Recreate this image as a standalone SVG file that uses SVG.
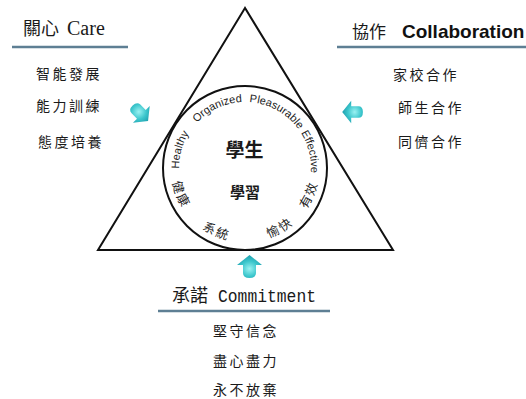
<svg xmlns="http://www.w3.org/2000/svg" xmlns:xlink="http://www.w3.org/1999/xlink" width="526" height="399" viewBox="0 0 526 399">
<style>
.cjk{font-family:"Noto Sans CJK TC","Noto Sans CJK SC",sans-serif;fill:#1a1a1a}
.item{font-size:14px;letter-spacing:2.5px}
.hline{stroke:#5e7f94;stroke-width:2.5;fill:none}
.en{font-family:"Liberation Sans",Arial,sans-serif;font-size:11px;fill:#222}
.arc{font-family:"Noto Sans CJK TC",sans-serif;font-size:12.5px;fill:#222;letter-spacing:2px}
.shape{fill:none;stroke:#111;stroke-width:2}
.arrow{fill:url(#ag)}
</style>
<defs>
<radialGradient id="ag" cx="0.5" cy="0.6" r="0.6">
<stop offset="0" stop-color="#9af2f2"/>
<stop offset="0.55" stop-color="#3cc6cc"/>
<stop offset="1" stop-color="#1e9fae"/>
</radialGradient>
<path id="arr" d="M0,-12 L12.5,-2 L6.5,-2 L6.5,6 Q6.5,11 0,11 Q-6.5,11 -6.5,6 L-6.5,-2 L-12.5,-2 Z"/>
<path id="topArc" d="M179,168 A66,66 0 1 1 311,168 A66,66 0 1 1 179,168"/>
<path id="botArc" d="M171,168 A74,74 0 0 0 319,168"/>
</defs>
<rect width="526" height="399" fill="#fff"/>

<g id="connectors">
<path class="shape" d="M245,8 L98,250 L393,250 Z"/>
<use class="arrow" href="#arr" transform="translate(140,113) rotate(135) scale(0.95)"/>
<use class="arrow" href="#arr" transform="translate(353,112) rotate(-90) scale(0.9)"/>
<use class="arrow" href="#arr" transform="translate(249.5,267)"/>
</g>

<g id="center">
<circle class="shape" cx="245" cy="168" r="82"/>
<text class="cjk" x="244.5" y="157" font-size="19" font-weight="bold" text-anchor="middle">學生</text>
<text class="cjk" x="245" y="198" font-size="15" font-weight="bold" text-anchor="middle">學習</text>
<text class="en"><textPath href="#topArc" startOffset="18" text-anchor="middle">Healthy</textPath></text>
<text class="en"><textPath href="#topArc" startOffset="75" text-anchor="middle">Organized</textPath></text>
<text class="en"><textPath href="#topArc" startOffset="137" text-anchor="middle">Pleasurable</textPath></text>
<text class="en"><textPath href="#topArc" startOffset="191" text-anchor="middle">Effective</textPath></text>
<text class="arc"><textPath href="#botArc" startOffset="29" text-anchor="middle">健康</textPath></text>
<text class="arc"><textPath href="#botArc" startOffset="85" text-anchor="middle">系統</textPath></text>
<text class="arc"><textPath href="#botArc" startOffset="155" text-anchor="middle">愉快</textPath></text>
<text class="arc"><textPath href="#botArc" startOffset="203" text-anchor="middle">有效</textPath></text>
</g>

<g id="care">
<text x="23" y="35"><tspan class="cjk" font-size="18">關心</tspan><tspan font-family="'Liberation Serif',serif" font-size="20" fill="#1a1a1a" dx="8">Care</tspan></text>
<line class="hline" x1="12" y1="47" x2="128" y2="47"/>
<text class="cjk item" x="36" y="79">智能發展</text>
<text class="cjk item" x="36" y="111">能力訓練</text>
<text class="cjk item" x="38" y="147">態度培養</text>
</g>

<g id="collaboration">
<text x="352" y="38"><tspan class="cjk" font-size="17">協作</tspan><tspan font-family="'Liberation Sans',Arial,sans-serif" font-size="19" font-weight="bold" fill="#111" dx="16">Collaboration</tspan></text>
<line class="hline" x1="337" y1="47" x2="526" y2="47"/>
<text class="cjk item" x="393" y="80">家校合作</text>
<text class="cjk item" x="398" y="113">師生合作</text>
<text class="cjk item" x="398" y="147">同儕合作</text>
</g>

<g id="commitment">
<text x="172" y="302"><tspan class="cjk" font-size="18">承諾</tspan><tspan font-family="'Liberation Mono',monospace" font-size="19" fill="#1a1a1a" dx="10" textLength="98" lengthAdjust="spacingAndGlyphs">Commitment</tspan></text>
<line class="hline" x1="158" y1="311" x2="330" y2="311"/>
<text class="cjk item" x="213" y="336">堅守信念</text>
<text class="cjk item" x="213" y="366">盡心盡力</text>
<text class="cjk item" x="213" y="395">永不放棄</text>
</g>
</svg>
